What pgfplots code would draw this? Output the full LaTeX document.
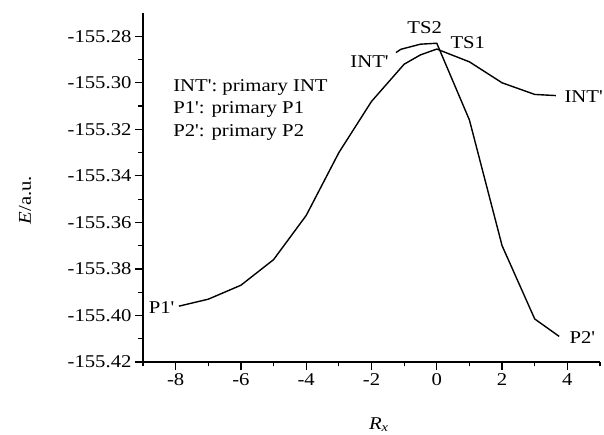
\documentclass[border=0pt]{standalone}
\usepackage{pgfplots}
\pgfplotsset{compat=1.18}
\usepackage{fontspec}
\newfontfamily\tnr{Liberation Serif}[FakeStretch=1.15]
\newcommand\chartfont{\tnr\fontsize{18}{21}\selectfont}
\begin{document}
\begin{tikzpicture}[font=\chartfont]
\begin{axis}[
    name=ax,
    scale only axis,
    width=457pt, height=349pt,
    font=\chartfont,
    ticklabel style={font=\chartfont},
    label style={font=\chartfont},
    axis lines*=left,
    xmin=-9, xmax=5,
    ymin=-155.42, ymax=-155.27,
    xtick={-8,-6,-4,-2,0,2,4},
    xticklabels={-8,-6,-4,-2,0,2,4},
    minor xtick={-9,-7,-5,-3,-1,1,3,5},
    ytick={-155.42,-155.40,-155.38,-155.36,-155.34,-155.32,-155.30,-155.28},
    yticklabels={-155.42,-155.40,-155.38,-155.36,-155.34,-155.32,-155.30,-155.28},
    minor ytick={-155.41,-155.39,-155.37,-155.35,-155.33,-155.31,-155.29},
    tick align=outside,
    major tick length=8pt,
    minor tick length=4.5pt,
    every tick/.style={black, line width=1.2pt},
    axis line style={line width=1.2pt},
    xlabel={\textit{R}\textsubscript{\textit{x}}},
    xlabel style={at={(axis description cs:0.516,-0.192)}, anchor=base},
    ylabel={\textit{E}/a.u.},
    ylabel style={at={(axis description cs:-0.258,0.464)}, anchor=center},
    clip=false,
]
% INT' -> TS1 -> P1' / INT'
\addplot[black, line width=1.4pt] coordinates {
    (-7.9,-155.396) (-7,-155.393) (-6,-155.387) (-5,-155.376)
    (-4,-155.357) (-3,-155.330) (-2,-155.308) (-1,-155.292)
    (-0.5,-155.288) (0,-155.2855) (1,-155.291) (2,-155.300)
    (3,-155.305) (3.65,-155.3055)
};
% INT' -> TS2 -> P2'
\addplot[black, line width=1.4pt] coordinates {
    (-1.25,-155.287) (-1.1,-155.2856) (-0.5,-155.2834) (0,-155.283)
    (1,-155.316) (2,-155.370) (3,-155.4015) (3.75,-155.409)
};
\node[anchor=base west] at (axis cs:-8.18,-155.3039) {INT': primary INT};
\node[anchor=base west] at (axis cs:-8.18,-155.3132) {P1': primary P1};
\node[anchor=base west] at (axis cs:-8.18,-155.3229) {P2': primary P2};
\node at (axis cs:-2.06,-155.2907) {INT'};
\node at (axis cs:-0.37,-155.2764) {TS2};
\node at (axis cs:0.95,-155.2826) {TS1};
\node at (axis cs:4.5,-155.3058) {INT'};
\node at (axis cs:-8.43,-155.3966) {P1'};
\node at (axis cs:4.46,-155.4097) {P2'};
\coordinate (O) at (rel axis cs:0,0);
\end{axis}
\pgfresetboundingbox
\path (O) ++(-143pt,-72pt) rectangle ++(604pt,434pt);
\end{tikzpicture}
\end{document}
